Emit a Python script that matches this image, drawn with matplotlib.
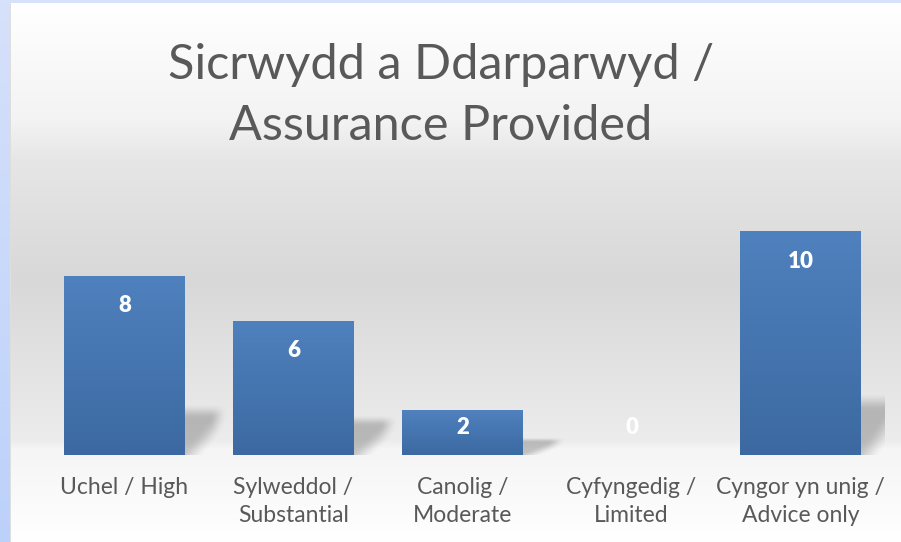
import numpy as np
import matplotlib
matplotlib.use("Agg")
import matplotlib.pyplot as plt
from matplotlib.patches import Rectangle
from matplotlib.colors import to_rgb

categories = ["Uchel / High", "Sylweddol /\nSubstantial", "Canolig /\nModerate",
              "Cyfyngedig /\nLimited", "Cyngor yn unig /\nAdvice only"]
values = [8, 6, 2, 0, 10]
title_lines = ["Sicrwydd a Ddarparwyd /", "Assurance Provided"]

FONT = "Lato"
W, H = 901, 542
fig = plt.figure(figsize=(W / 100, H / 100), dpi=100)

# ---- background gradient (chart area) ----
bg = fig.add_axes([0, 0, 1, 1], zorder=-10)
bg.set_axis_off()
ys = np.arange(H)
stops_y = [0, 3, 120, 160, 280, 440, 448, 542]
stops_v = [255, 255, 243, 230, 216, 236, 245, 255]
col = np.interp(ys, stops_y, stops_v) / 255.0
img = np.repeat(col[:, None], 2, axis=1)
img = np.dstack([img, img, img])
bg.imshow(img, extent=[0, W, H, 0], aspect="auto", interpolation="bilinear")
bg.set_xlim(0, W)
bg.set_ylim(H, 0)
# blue border strips
left_strip = np.linspace(0, 1, H)[:, None]
c1 = np.array(to_rgb("#d6e1fa"))
c2 = np.array(to_rgb("#bcd1fa"))
strip = c1[None, None, :] * (1 - left_strip[:, :, None]) + c2[None, None, :] * left_strip[:, :, None]
bg.imshow(strip, extent=[0, 10, H, 0], aspect="auto", zorder=2)
bg.add_patch(Rectangle((0, 0), W, 3, color="#d6e2fb", zorder=3, lw=0))
bg.add_patch(Rectangle((10, 3), 1.2, H, color="#dedede", zorder=3, lw=0))

# ---- main axes ----
unit = 22.4
base_px = 455
ymax = 12
top_px = base_px - ymax * unit
ax = fig.add_axes([40 / W, (H - base_px) / H, 845 / W, (base_px - top_px) / H])
ax.patch.set_alpha(0)
for s in ax.spines.values():
    s.set_visible(False)
ax.set_xlim(-0.5, len(values) - 0.5)
ax.set_ylim(0, ymax)
ax.set_yticks([])

x = np.arange(len(values))
bw = 121 / 169
bars = ax.bar(x, values, width=bw, color="#4a7ab5", zorder=3)

top_c = np.array(to_rgb("#4f81be"))
bot_c = np.array(to_rgb("#3c69a1"))
t = np.linspace(0, 1, 64)[:, None]
grad = top_c[None, None, :] * (1 - t[:, :, None]) + bot_c[None, None, :] * t[:, :, None]

def ss(z):
    z = np.clip(z, 0, 1)
    return z * z * (3 - 2 * z)

sw = 45 / 169
for b, v in zip(bars, values):
    if v <= 0:
        continue
    x0, x1 = b.get_x(), b.get_x() + b.get_width()
    im = ax.imshow(grad, extent=[x0, x1, 0, v], aspect="auto", zorder=4,
                   interpolation="bilinear")
    im.set_clip_path(b)
    # soft shadow to the right
    sh = 0.25 * v + 0.3
    n = 60
    u = np.linspace(0, 1, n)[None, :]
    vv = np.linspace(1, 0, n)[:, None]
    a = 0.22 * ss((vv - u + 0.45) / 0.6) * ss((1 - vv) / 0.3) * ss((1 - u) / 0.45)
    rgba = np.zeros((n, n, 4))
    rgba[..., 3] = a
    ax.imshow(rgba, extent=[x1, x1 + sw, 0, sh], aspect="auto", zorder=2,
              interpolation="bilinear")

ax.set_xlim(-0.5, len(values) - 0.5)
ax.set_ylim(0, ymax)

# data labels
for xi, v in zip(x, values):
    ly = max(v - 30 / unit, 28 / unit)
    ax.text(xi, ly, f"{v}", ha="center", va="center", color="white",
            fontsize=16, fontweight="heavy", family=FONT, zorder=6)

ax.set_xticks(x)
ax.set_xticklabels(categories, fontsize=16.5, color="#595959", family=FONT)
ax.tick_params(axis="x", length=0, pad=15.5)
for lab in ax.get_xticklabels():
    lab.set_linespacing(1.42)

# title
fig.text(441 / W, 1 - 79 / H, title_lines[0], ha="center", va="baseline",
         fontsize=35, color="#595959", family=FONT)
fig.text(441 / W, 1 - 140 / H, title_lines[1], ha="center", va="baseline",
         fontsize=35, color="#595959", family=FONT)

fig.savefig("out.png", dpi=100)
